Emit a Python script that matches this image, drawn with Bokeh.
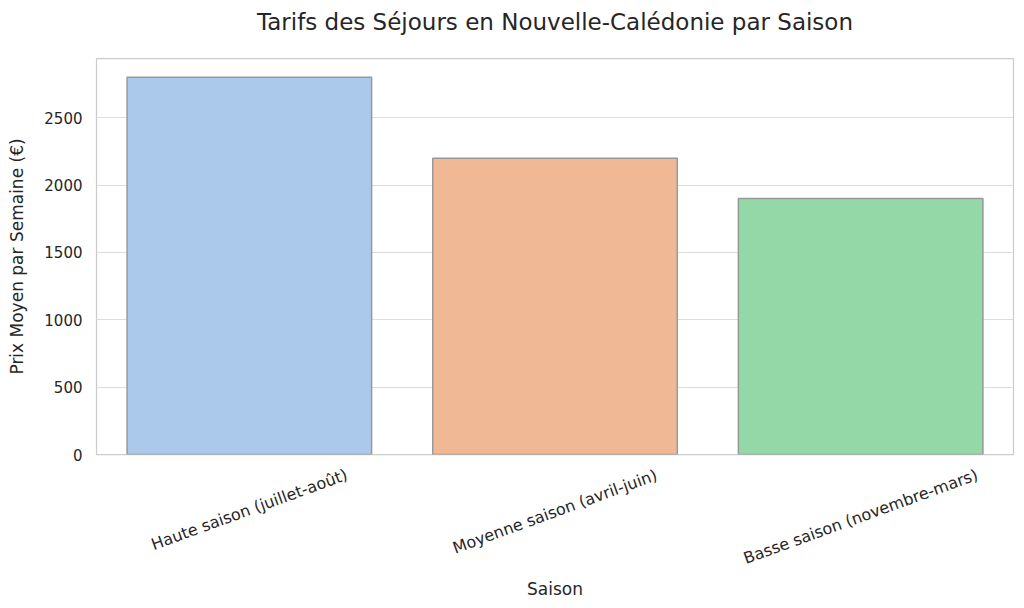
from bokeh.plotting import figure
from bokeh.layouts import column
from bokeh.models import ColumnDataSource, Range1d, FactorRange, SingleIntervalTicker
from bokeh.core.properties import value
from bokeh.embed import file_html
from bokeh.resources import INLINE
import math

# Data
saisons = ["Haute saison (juillet-août)", "Moyenne saison (avril-juin)", "Basse saison (novembre-mars)"]
prix = [2800, 2200, 1900]
couleurs = ["#abc9eb", "#f0b894", "#95d8a7"]
titre = "Tarifs des Séjours en Nouvelle-Calédonie par Saison"
label_x = "Saison"
label_y = "Prix Moyen par Semaine (€)"

# Style: vertical offset (px below the plot frame) of each rotated category label centre
decalage_etiquettes = [-55, -57, -62]

FONT = "DejaVu Sans"
TXT = "#262626"
W = 1016
BL, BR = 96, 3

src = ColumnDataSource(dict(saison=saisons, prix=prix, couleur=couleurs))
xr = FactorRange(factors=saisons, range_padding=0)


def strip(height, y0, y1):
    f = figure(width=W, height=height, x_range=xr, y_range=Range1d(y0, y1),
               output_backend="svg", toolbar_location=None,
               min_border_left=BL, min_border_right=BR, min_border_top=0, min_border_bottom=0,
               x_axis_type=None, y_axis_type=None)
    f.outline_line_color = None
    f.grid.visible = False
    f.background_fill_color = "white"
    f.border_fill_color = "white"
    return f


# ---- title strip (y = pixels from top of page, negative downward) ----
t = strip(54, -54, 0)
t.text(x=[1.5], y=[-21], text=[titre], text_align="center", text_baseline="middle",
       text_font=value(FONT), text_font_size="23px", text_color=TXT)

# ---- main plot ----
p = figure(
    width=W, height=410,
    x_range=xr,
    y_range=Range1d(0, max(prix) * 1.05),
    output_backend="svg", toolbar_location=None,
    min_border_left=BL, min_border_right=BR, min_border_top=4, min_border_bottom=10,
)

p.vbar(x="saison", top="prix", width=0.8, source=src, fill_color="couleur",
       line_color="#999999", line_width=1.5)

p.outline_line_color = "#cccccc"
p.outline_line_width = 1.25
p.xgrid.grid_line_color = None
p.ygrid.grid_line_color = "#dddddd"
p.ygrid.grid_line_width = 1.1
p.background_fill_color = "white"
p.border_fill_color = "white"

p.xaxis.visible = False

p.yaxis.ticker = SingleIntervalTicker(interval=500)
p.yaxis.axis_line_color = None
p.yaxis.major_tick_line_color = None
p.yaxis.minor_tick_line_color = None
p.yaxis.major_label_text_font = FONT
p.yaxis.major_label_text_font_size = "15px"
p.yaxis.major_label_text_color = TXT
p.yaxis.major_label_standoff = 8
p.yaxis.axis_label = label_y
p.yaxis.axis_label_text_font = FONT
p.yaxis.axis_label_text_font_size = "17px"
p.yaxis.axis_label_text_font_style = "normal"
p.yaxis.axis_label_text_color = TXT
p.yaxis.axis_label_standoff = 14

# ---- strip below: rotated category labels and x axis title ----
# y of this strip = pixels below the main frame's bottom edge (negative downward)
q = strip(136, -146, -10)
lab_src = ColumnDataSource(dict(saison=saisons, y=decalage_etiquettes))
q.text(x="saison", y="y", text="saison", source=lab_src, angle=math.radians(20),
       text_align="center", text_baseline="middle",
       text_font=value(FONT), text_font_size="16px", text_color=TXT)
q.text(x=[1.5], y=[-134], text=[label_x], text_align="center", text_baseline="middle",
       text_font=value(FONT), text_font_size="17px", text_color=TXT)

layout = column(t, p, q, spacing=0)
open("out.html", "w").write(file_html(layout, INLINE))
